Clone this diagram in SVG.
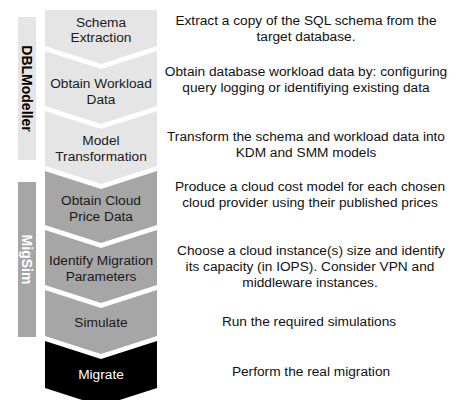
<svg xmlns="http://www.w3.org/2000/svg" width="456" height="400" viewBox="0 0 456 400">
<style>
text{font-family:"Liberation Sans",Arial,Helvetica,sans-serif;font-size:13.7px;text-anchor:middle}
.light{fill:#e5e5e5}
.mid{fill:#a6a6a6}
.dark{fill:#000}
.lt{fill:#1a1a1a}
.wt{fill:#fff}
.side{font-weight:bold;font-size:14px}
.desc{fill:#111}
</style>
<rect width="456" height="400" fill="#fff"/>
<g id="bar-dblmodeller">
<rect class="light" x="18" y="17" width="18" height="143"/>
<text class="side" fill="#000" transform="translate(22,88.5) rotate(90)">DBLModeller</text>
</g>
<g id="bar-migsim">
<rect class="mid" x="18" y="182" width="18" height="155"/>
<text class="side" fill="#fff" transform="translate(22,259.5) rotate(90)">MigSim</text>
</g>
<g id="step-schema">
<polygon class="light" points="45,10 157,10 157,46 101,64 45,46"/>
<text class="lt" x="101" y="27">Schema</text>
<text class="lt" x="101" y="42">Extraction</text>
</g>
<g id="step-workload">
<polygon class="light" points="45,51 101,69 157,51 157,106 101,124 45,106"/>
<text class="lt" x="101" y="88">Obtain Workload</text>
<text class="lt" x="101" y="104">Data</text>
</g>
<g id="step-model">
<polygon class="light" points="45,111 101,129 157,111 157,166 101,184 45,166"/>
<text class="lt" x="101" y="145">Model</text>
<text class="lt" x="101" y="161">Transformation</text>
</g>
<g id="step-price">
<polygon class="mid" points="45,171 101,189 157,171 157,225 101,243 45,225"/>
<text class="lt" x="101" y="205">Obtain Cloud</text>
<text class="lt" x="101" y="221">Price Data</text>
</g>
<g id="step-params">
<polygon class="mid" points="45,230 101,248 157,230 157,285 101,303 45,285"/>
<text class="lt" x="101" y="265">Identify Migration</text>
<text class="lt" x="101" y="281">Parameters</text>
</g>
<g id="step-simulate">
<polygon class="mid" points="45,290 101,308 157,290 157,336 101,354 45,336"/>
<text class="lt" x="101" y="327">Simulate</text>
</g>
<g id="step-migrate">
<polygon class="dark" points="45,341 101,359 157,341 157,388 101,406 45,388"/>
<text class="wt" x="101" y="379">Migrate</text>
</g>
<g id="descriptions">
<text class="desc" x="306" y="25">Extract a copy of the SQL schema from the</text>
<text class="desc" x="306" y="41">target database.</text>
<text class="desc" x="306" y="76">Obtain database workload data by: configuring</text>
<text class="desc" x="306" y="92">query logging or identifiying existing data</text>
<text class="desc" x="306" y="141">Transform the schema and workload data into</text>
<text class="desc" x="306" y="157">KDM and SMM models</text>
<text class="desc" x="310" y="191">Produce a cloud cost model for each chosen</text>
<text class="desc" x="310" y="207">cloud provider using their published prices</text>
<text class="desc" x="311" y="255">Choose a cloud instance(s) size and identify</text>
<text class="desc" x="310" y="271">its capacity (in IOPS). Consider VPN and</text>
<text class="desc" x="310" y="287">middleware instances.</text>
<text class="desc" x="309" y="326">Run the required simulations</text>
<text class="desc" x="311" y="376">Perform the real migration</text>
</g>
<g id="connectors"></g>
</svg>
